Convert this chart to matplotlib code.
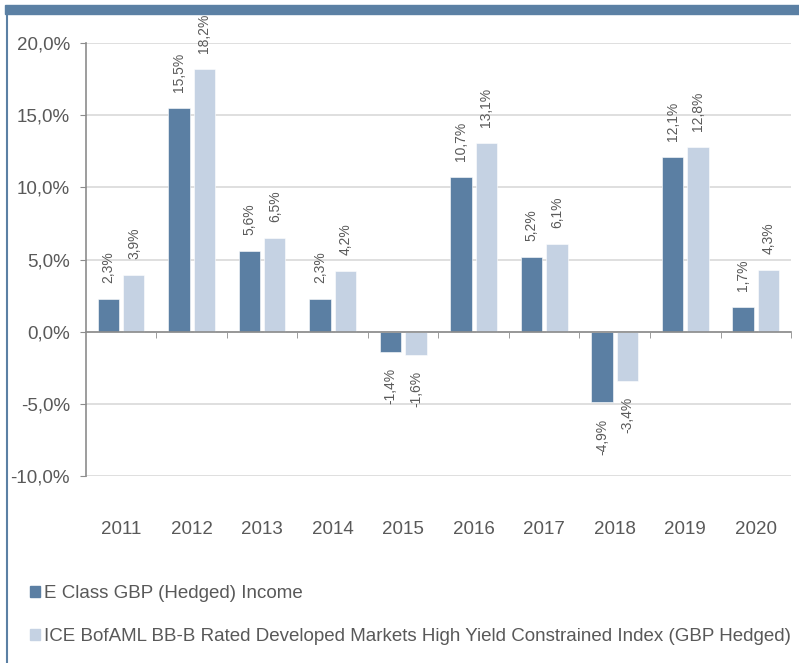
import matplotlib.pyplot as plt
from matplotlib.lines import Line2D
from matplotlib.patches import Patch, Rectangle
import numpy as np

plt.rcParams['font.family'] = ['Liberation Sans', 'DejaVu Sans']

years = ["2011", "2012", "2013", "2014", "2015", "2016", "2017", "2018", "2019", "2020"]
fund = [2.3, 15.5, 5.6, 2.3, -1.4, 10.7, 5.2, -4.9, 12.1, 1.7]
index = [3.9, 18.2, 6.5, 4.2, -1.6, 13.1, 6.1, -3.4, 12.8, 4.3]
fund_label = "E Class GBP (Hedged) Income"
index_label = "ICE BofAML BB-B Rated Developed Markets High Yield Constrained Index (GBP Hedged)"

DARK = "#5b7fa3"
LIGHT = "#c5d2e3"
TXT = "#595959"
AXC = "#8c8c8c"

fig = plt.figure(figsize=(7.99, 6.63), dpi=100)
ax = fig.add_axes([0.1076, 0.282, 0.8824, 0.6531])

x = np.arange(len(years))
w = 0.30
off = 0.18
ax.bar(x - off, fund, w, color=DARK, edgecolor="white", lw=0.4, zorder=3)
ax.bar(x + off, index, w, color=LIGHT, edgecolor="white", lw=0.4, zorder=3)

fmt = lambda v: f"{v:.1f}%".replace(".", ",")
for xs, vals in ((x - off, fund), (x + off, index)):
    for xi, v in zip(xs, vals):
        up = v >= 0
        ax.annotate(fmt(v), (xi, v), xytext=(0, 11.5 if up else -11.5),
                    textcoords="offset points", rotation=90, ha="center",
                    va="bottom" if up else "top", fontsize=10, color=TXT)

ax.set_xlim(-0.5, len(years) - 0.5)
ax.set_ylim(-10, 20)
yt = np.arange(-10, 21, 5)
ax.set_yticks(yt)
ax.set_yticklabels([fmt(v) for v in yt], fontsize=13.5, color=TXT)
ax.tick_params(axis="y", length=4.5, color=AXC, pad=7)
ax.grid(axis="y", color="#d9d9d9", lw=1.2, zorder=0)

# x axis line at zero with ticks between categories
ax.spines["bottom"].set_position(("data", 0))
ax.spines["bottom"].set_color(AXC)
ax.spines["bottom"].set_linewidth(1.2)
ax.spines["bottom"].set_zorder(4)
ax.spines["left"].set_color(AXC)
ax.spines["left"].set_linewidth(1.2)
for s in ("top", "right"):
    ax.spines[s].set_visible(False)
ax.set_xticks(np.arange(len(years)) + 0.5, minor=True)
ax.set_xticks([])
ax.tick_params(axis="x", which="minor", length=4.5, color=AXC, direction="out")
for xi, yr in zip(x, years):
    ax.text(xi, -0.124, yr, transform=ax.get_xaxis_transform(),
            ha="center", va="center", fontsize=13.5, color=TXT)

# frame decoration
fig.patches.append(Rectangle((5 / 799, 1 - 14 / 663), 1.0, 9 / 663, transform=fig.transFigure,
                             color="#5b80a4", zorder=0))
fig.lines.append(Line2D([6.5 / 799, 6.5 / 799], [0, 1 - 14 / 663], transform=fig.transFigure,
                        color="#5b80a4", lw=1.5))

handles = [Patch(color=DARK), Patch(color=LIGHT)]
fig.legend(handles, [fund_label, index_label], loc="upper left",
           bbox_to_anchor=(0.028, 0.129), frameon=False, fontsize=13.5,
           labelcolor=TXT, handlelength=0.55, handleheight=0.55, handletextpad=0.2,
           labelspacing=1.38, borderaxespad=0)

fig.savefig("out.png", dpi=100)
